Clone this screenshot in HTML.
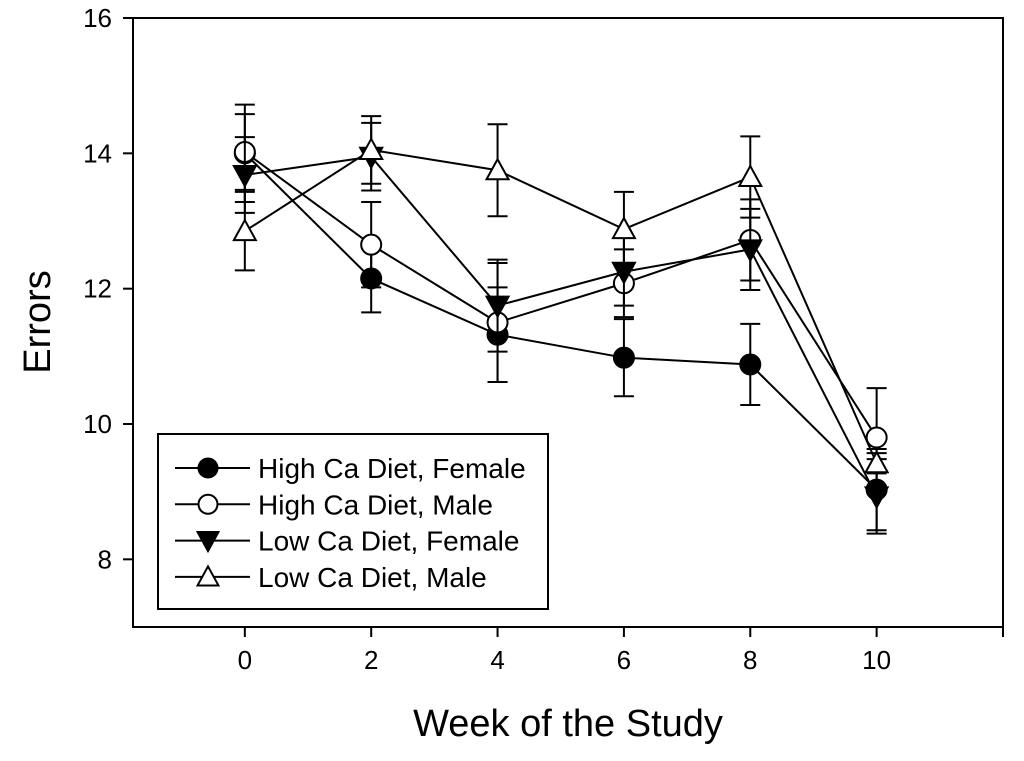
<!DOCTYPE html>
<html><head><meta charset="utf-8"><style>
html,body{margin:0;padding:0;background:#fff;}
svg text{font-family:"Liberation Sans",Arial,sans-serif;fill:#000;}
</style></head><body>
<svg id="chart" width="1024" height="756" viewBox="0 0 1024 756">
<rect x="133" y="18" width="870" height="609" fill="none" stroke="#000" stroke-width="2"/>
<g id="axes"></g>
<g id="series"></g>
<text x="50" y="322" font-size="38" text-anchor="middle" transform="rotate(-90 50 322)">Errors</text>
<text x="568" y="736" font-size="38" text-anchor="middle">Week of the Study</text>
<g>
<rect x="158" y="434" width="390" height="175" fill="#fff" stroke="#000" stroke-width="2"/>
<g id="legend"></g>
</g>
</svg>
<script>
const weeks=[0,2,4,6,8,10];
const yTicks=[8,10,12,14,16];
const seriesNames=["High Ca Diet, Female","High Ca Diet, Male","Low Ca Diet, Female","Low Ca Diet, Male"];
const hfVals=[14.0,12.15,11.32,10.98,10.88,9.03];
const hfErr=[0.72,0.5,0.7,0.57,0.6,0.6];
const hmVals=[14.02,12.65,11.5,12.08,12.72,9.8];
const hmErr=[0.56,0.63,0.88,0.5,0.6,0.73];
const lfVals=[13.68,13.95,11.75,12.25,12.58,8.93];
const lfErr=[0.56,0.5,0.68,0.5,0.6,0.55];
const lmVals=[12.85,14.05,13.75,12.88,13.65,9.42];
const lmErr=[0.58,0.5,0.68,0.55,0.6,0.15];
const X0=-1.77,X1=12,Y0=7,Y1=16,L=133,R=1003,T=18,B=627;
const xs=v=>L+(v-X0)/(X1-X0)*(R-L);
const ys=v=>B-(v-Y0)/(Y1-Y0)*(B-T);
const NS="http://www.w3.org/2000/svg";
function mk(tag,attrs,parent){const e=document.createElementNS(NS,tag);for(const k in attrs)e.setAttribute(k,attrs[k]);parent.appendChild(e);return e;}
const axes=document.getElementById('axes');
yTicks.forEach(t=>{
 const l=mk('line',{x1:123,x2:133,y1:ys(t),y2:ys(t),stroke:'#000','stroke-width':2},axes);
 
 
 const tx=mk('text',{x:112,y:ys(t)+9,'font-size':26,'text-anchor':'end'},axes);
 tx.textContent=t;
 
 
});
weeks.concat([12]).forEach(t=>{
 const l=mk('line',{x1:xs(t),x2:xs(t),y1:627,y2:637,stroke:'#000','stroke-width':2},axes);
 
 
});
weeks.forEach(t=>{
 const tx=mk('text',{x:xs(t),y:669,'font-size':26,'text-anchor':'middle'},axes);
 tx.textContent=t;
 
 
});
function marker(type,cx,cy,p,s){
 s=s||1;
 let e;
 if(type==0)e=mk('circle',{cx:cx,cy:cy,r:10*s,fill:'#000',stroke:'#000','stroke-width':2},p);
 else if(type==1)e=mk('circle',{cx:cx,cy:cy,r:10*s,fill:'#fff',stroke:'#000','stroke-width':2},p);
 else if(type==2)e=mk('polygon',{points:`${cx-11*s},${cy-9*s} ${cx+11*s},${cy-9*s} ${cx},${cy+11*s}`,fill:'#000',stroke:'#000','stroke-width':2},p);
 else e=mk('polygon',{points:`${cx-11*s},${cy+9*s} ${cx+11*s},${cy+9*s} ${cx},${cy-11*s}`,fill:'#fff',stroke:'#000','stroke-width':2},p);
 
 
}
const allVals=[hfVals,hmVals,lfVals,lmVals],allErr=[hfErr,hmErr,lfErr,lmErr];
const sg=document.getElementById('series');
const groups=[];
allVals.forEach((vals,i)=>{
 const g=mk('g',{},sg);
 
 
 groups.push(g);
 vals.forEach((v,j)=>{
  const e=allErr[i][j],x=xs(weeks[j]);
  const eb=mk('path',{d:`M${x},${ys(v+e)}V${ys(v-e)}M${x-10},${ys(v+e)}h20M${x-10},${ys(v-e)}h20`,stroke:'#000','stroke-width':2,fill:'none'},g);
  
  
 });
 const pl=mk('polyline',{points:vals.map((v,j)=>xs(weeks[j])+','+ys(v)).join(' '),fill:'none',stroke:'#000','stroke-width':2},g);
 
 
});
[3,2,1,0].forEach(i=>{allVals[i].forEach((v,j)=>marker(i,xs(weeks[j]),ys(v),groups[i]));});
const lg=document.getElementById('legend');
seriesNames.forEach((n,i)=>{
 const y=468+i*36.3;
 const g=mk('g',{},lg);
 
 
 mk('line',{x1:175,x2:250,y1:y,y2:y,stroke:'#000','stroke-width':2},g);
 marker(i,208,y,g,0.95);
 const t=mk('text',{x:258,y:y+10,'font-size':28},g);
 t.textContent=n;
});
</script>
</body></html>
